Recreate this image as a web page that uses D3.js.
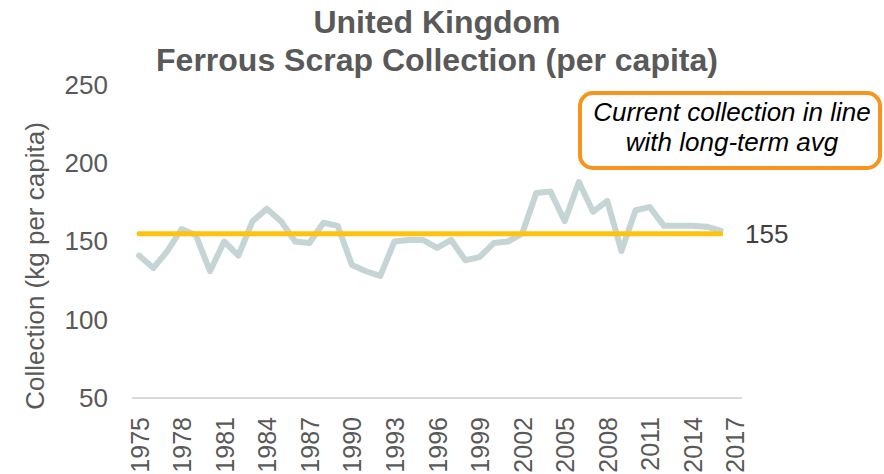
<!DOCTYPE html>
<html>
<head>
<meta charset="utf-8">
<script src="https://cdn.jsdelivr.net/npm/d3@7"></script>
<style>
  html, body { margin: 0; padding: 0; background: #ffffff; }
  svg { display: block; font-family: Arial, "Liberation Sans", sans-serif; }
</style>
</head>
<body>
<svg id="chart" width="884" height="474"></svg>
<script>
// Category axis: every year from 1975 to 2017
const years = d3.range(1975, 2018);
// Labelled years on the category axis
const tickYears = [1975, 1978, 1981, 1984, 1987, 1990, 1993, 1996, 1999, 2002, 2005, 2008, 2011, 2014, 2017];
// Ferrous scrap collection, kg per capita, 1975–2016
const dataYears = d3.range(1975, 2017);
const collection = [
  141, 133, 144, 158, 154, 131, 150, 141, 163, 171,
  163, 150, 149, 162, 160, 135, 131, 128, 150, 151,
  151, 146, 151, 138, 140, 149, 150, 155, 181, 182,
  163, 188, 169, 176, 144, 170, 172, 160, 160, 160,
  159.5, 157
];
// Long-term average
const longTermAvg = 155;
const yTicks = [50, 100, 150, 200, 250];

const svg = d3.select("#chart");

const x = d3.scalePoint()
  .domain(years)
  .range([132, 742])
  .padding(0.5);

const y = d3.scaleLinear()
  .domain([50, 250])
  .range([398, 85]);

// Title
const title = svg.append("text")
  .attr("text-anchor", "middle")
  .attr("fill", "#595959")
  .style("font-size", "32px")
  .style("font-weight", "bold");
title.append("tspan").attr("x", 437).attr("y", 33).text("United Kingdom");
title.append("tspan").attr("x", 437).attr("y", 71).text("Ferrous Scrap Collection (per capita)");

// Y axis (labels only)
const yAxis = svg.append("g")
  .attr("transform", "translate(112,0)")
  .call(d3.axisLeft(y).tickValues(yTicks).tickSize(0).tickPadding(4));
yAxis.select(".domain").remove();
yAxis.selectAll("text")
  .attr("fill", "#595959")
  .style("font-size", "26px")
  .style("font-family", "Arial, 'Liberation Sans', sans-serif");

// Y axis title
svg.append("text")
  .attr("transform", "translate(44,266) rotate(-90)")
  .attr("text-anchor", "middle")
  .attr("fill", "#595959")
  .style("font-size", "26px")
  .text("Collection (kg per capita)");

// X axis
const xAxis = svg.append("g")
  .attr("transform", `translate(0,${y(50)})`)
  .call(d3.axisBottom(x).tickValues(tickYears).tickSize(0).tickPadding(0));
xAxis.select(".domain")
  .attr("d", `M${x.range()[0]},0H${x.range()[1]}`)
  .attr("stroke", "#d9d9d9")
  .attr("stroke-width", 2);
xAxis.selectAll("text")
  .attr("y", 0)
  .attr("x", 0)
  .attr("dy", "0.36em")
  .attr("transform", "translate(0,19) rotate(-90)")
  .attr("text-anchor", "end")
  .attr("fill", "#595959")
  .style("font-size", "25px")
  .style("font-family", "Arial, 'Liberation Sans', sans-serif");

// Collection series
const line = d3.line()
  .x((d, i) => x(dataYears[i]))
  .y(d => y(d));

svg.append("path")
  .datum(collection)
  .attr("d", line)
  .attr("fill", "none")
  .attr("stroke", "#c5d5d6")
  .attr("stroke-width", 6)
  .attr("stroke-linejoin", "round")
  .attr("stroke-linecap", "round");

// Long-term average line
svg.append("path")
  .datum(dataYears.map(() => longTermAvg))
  .attr("d", line)
  .attr("fill", "none")
  .attr("stroke", "#ffc20e")
  .attr("stroke-width", 5)
  .attr("stroke-linecap", "round");

svg.append("text")
  .attr("x", 745)
  .attr("y", y(longTermAvg))
  .attr("dy", "0.36em")
  .attr("fill", "#404040")
  .style("font-size", "26px")
  .text(longTermAvg);

// Annotation
svg.append("rect")
  .attr("x", 580)
  .attr("y", 93)
  .attr("width", 300)
  .attr("height", 75)
  .attr("rx", 13)
  .attr("fill", "#ffffff")
  .attr("stroke", "#f7941d")
  .attr("stroke-width", 4);

const note = svg.append("text")
  .attr("text-anchor", "middle")
  .attr("fill", "#000000")
  .style("font-size", "26px")
  .style("font-style", "italic");
note.append("tspan").attr("x", 732).attr("y", 121).text("Current collection in line");
note.append("tspan").attr("x", 732).attr("y", 151).text("with long-term avg");
</script>
</body>
</html>
